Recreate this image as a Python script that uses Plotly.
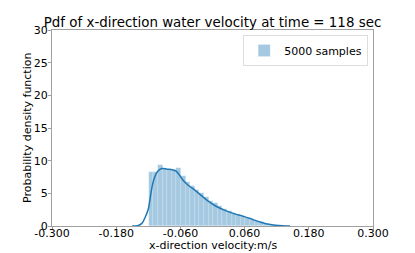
import plotly.graph_objects as go

bin_centers = [-0.1147, -0.1061, -0.0975, -0.0889, -0.0803, -0.0717, -0.0631, -0.0545, -0.0459, -0.0373,
               -0.0287, -0.0201, -0.0115, -0.0029, 0.0057, 0.0143, 0.0229, 0.0315, 0.0401, 0.0487,
               0.0573, 0.0659, 0.0745, 0.0831, 0.0917, 0.1003, 0.1089, 0.1175, 0.1261, 0.1347]
bin_heights = [8.3, 8.3, 9.3, 8.8, 8.6, 8.6, 8.9, 7.6, 6.8, 6.1,
               5.5, 5.0, 4.4, 3.9, 3.5, 3.0, 2.6, 2.3, 2.0, 1.7,
               1.45, 1.2, 0.95, 0.75, 0.55, 0.35, 0.2, 0.12, 0.08, 0.05]
bin_width = 0.0086

kde_x = [-0.150, -0.140, -0.132, -0.125, -0.120, -0.117, -0.113, -0.108, -0.102, -0.095, -0.085,
         -0.075, -0.068, -0.062, -0.055, -0.045, -0.033, -0.020, -0.008, 0.005, 0.023, 0.040,
         0.061, 0.075, 0.089, 0.100, 0.117, 0.130, 0.145]
kde_y = [0.0, 0.05, 0.4, 1.5, 2.6, 4.0, 6.0, 7.5, 8.4, 8.8, 8.7,
         8.6, 8.4, 7.8, 7.0, 6.2, 5.5, 4.6, 3.8, 3.1, 2.4, 1.9,
         1.4, 1.0, 0.6, 0.35, 0.12, 0.04, 0.0]

x_ticks = [-0.300, -0.180, -0.060, 0.060, 0.180, 0.300]
x_tick_labels = ["-0.300", "-0.180", "-0.060", "0.060", "0.180", "0.300"]
y_ticks = [0, 5, 10, 15, 20, 25, 30]

fig = go.Figure()
fig.add_trace(go.Bar(
    x=bin_centers, y=bin_heights, width=[bin_width] * len(bin_centers),
    marker=dict(color="rgba(31,119,180,0.4)", line=dict(color="rgba(255,255,255,0.35)", width=0.5)),
    name="5000 samples", showlegend=True,
))
fig.add_trace(go.Scatter(
    x=kde_x, y=kde_y, mode="lines", line=dict(color="#1f77b4", width=1.5, shape="spline"),
    showlegend=False,
))

axis_common = dict(
    showline=True, linecolor="#a0a0a0", linewidth=1, mirror=True,
    ticks="outside", ticklen=3, tickcolor="#a0a0a0", showgrid=False, zeroline=False,
    automargin=False,
    tickfont=dict(family="DejaVu Sans", size=11, color="black"),
)
fig.update_layout(
    width=407, height=245,
    margin=dict(l=44, r=42, t=22, b=27, autoexpand=False),
    paper_bgcolor="white", plot_bgcolor="white",
    font=dict(family="DejaVu Sans", color="black"),
    title=dict(text="Pdf of x-direction water velocity at time = 118 sec", x=0.5, xanchor="center",
               xref="paper", yref="container", y=0.943, yanchor="middle", font=dict(size=13.4, color="black")),
    xaxis=dict(range=[-0.3, 0.3], tickvals=x_ticks, ticktext=x_tick_labels, ticklabelstandoff=-6,
               **axis_common),
    yaxis=dict(range=[0, 30], tickvals=y_ticks, ticklabelstandoff=-2, **axis_common),
    legend=dict(x=0.985, y=0.975, xanchor="right", yanchor="top", bgcolor="rgba(255,255,255,0.8)",
                bordercolor="#dddddd", borderwidth=1, font=dict(size=11),
                itemwidth=30, tracegroupgap=0),
    bargap=0,
    annotations=[
        dict(text="x-direction velocity:m/s", xref="paper", yref="paper", x=0.5, y=-0.102,
             xanchor="center", yanchor="middle", showarrow=False, font=dict(size=11)),
        dict(text="Probability density function", xref="paper", yref="paper", x=-0.078, y=0.5,
             xanchor="center", yanchor="middle", textangle=-90, showarrow=False, font=dict(size=11)),
    ],
)
fig.write_html("out.html")
